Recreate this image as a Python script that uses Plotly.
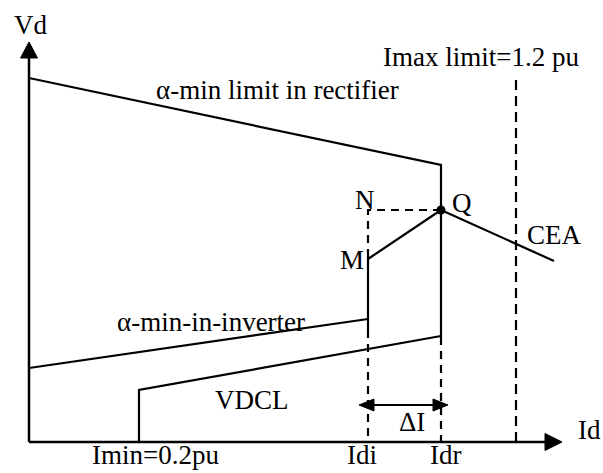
import plotly.graph_objects as go

# HVDC converter static characteristics (schematic units: Id to the right, Vd upward)
rect_alpha_x = [0, 412, 412]          # alpha-min limit in rectifier, then CC of rectifier at Idr
rect_alpha_y = [364, 277, 105]
cea_x = [412, 525]                     # constant extinction angle branch
cea_y = [232, 181]
mq_x = [339, 412]                      # M -> Q segment
mq_y = [183, 232]
idi_solid_x = [339, 339]               # current-control line of inverter at Idi
idi_solid_y = [190, 112]
inv_alpha_x = [0, 339]                 # alpha-min in inverter
inv_alpha_y = [74, 123]
vdcl_x = [0, 110, 110, 412]            # VDCL with Imin
vdcl_y = [0, 0, 52, 106]

dash_n_x = [412, 339, 339]             # N corner (dashed)
dash_n_y = [232, 232, 190]
dash_idi_x = [339, 339]
dash_idi_y = [112, 0]
dash_idr_x = [412, 412]
dash_idr_y = [105, 0]
imax_x = [487, 487]
imax_y = [362, 0]

q_point = (412, 232)
axis_x_end = 516
axis_y_end = 384
delta_i_y = 37
delta_i_span = (330, 419)

# (text, x, y, vertical anchor)
labels = [
    ("Vd", 1, 417, "middle"),
    ("α-min limit in rectifier", 248, 352, "middle"),
    ("Imax limit=1.2 pu", 452, 385, "middle"),
    ("N", 336, 242, "middle"),
    ("Q", 433, 239, "middle"),
    ("M", 323, 182, "middle"),
    ("CEA", 525, 207, "middle"),
    ("α-min-in-inverter", 182, 120, "middle"),
    ("VDCL", 223, 42, "middle"),
    ("Imin=0.2pu", 126, -30, "bottom"),
    ("Idi", 333, -30, "bottom"),
    ("Idr", 416, -30, "bottom"),
    ("ΔI", 383, 20, "middle"),
    ("Id", 560, 12, "middle"),
]

BLACK = "#000000"
LW = 2.2

fig = go.Figure()


def line(xs, ys, dash="solid", width=LW):
    fig.add_trace(go.Scatter(x=xs, y=ys, mode="lines",
                             line=dict(color=BLACK, width=width, dash=dash),
                             hoverinfo="skip", showlegend=False))


def triangle(tip, direction, length, half):
    tx, ty = tip
    dx, dy = direction
    bx, by = tx - dx * length, ty - dy * length
    px, py = -dy * half, dx * half
    fig.add_trace(go.Scatter(x=[tx, bx + px, bx - px, tx], y=[ty, by + py, by - py, ty],
                             mode="lines", fill="toself", fillcolor=BLACK,
                             line=dict(color=BLACK, width=1),
                             hoverinfo="skip", showlegend=False))


# axes with arrowheads
line([0, 0], [0, axis_y_end], width=2.5)
line([0, axis_x_end], [0, 0], width=2.5)
triangle((0, axis_y_end + 16), (0, 1), 16, 8.5)
triangle((axis_x_end + 17, 0), (1, 0), 17, 8.5)

# characteristic curves
line(rect_alpha_x, rect_alpha_y)
line(cea_x, cea_y)
line(mq_x, mq_y)
line(idi_solid_x, idi_solid_y)
line(inv_alpha_x, inv_alpha_y)
line(vdcl_x, vdcl_y)

# dashed construction lines
dash = "8px,6px"
line(dash_n_x, dash_n_y, dash=dash)
line(dash_idi_x, dash_idi_y, dash=dash)
line(dash_idr_x, dash_idr_y, dash=dash)
line(imax_x, imax_y, dash="10px,6px")

# current margin arrow
x0, x1 = delta_i_span
line([x0 + 10, x1 - 10], [delta_i_y, delta_i_y])
triangle((x0, delta_i_y), (-1, 0), 15, 6)
triangle((x1, delta_i_y), (1, 0), 15, 6)

# operating point Q
fig.add_trace(go.Scatter(x=[q_point[0]], y=[q_point[1]], mode="markers",
                         marker=dict(color=BLACK, size=9),
                         hoverinfo="skip", showlegend=False))

for text, x, y, anchor in labels:
    fig.add_annotation(x=x, y=y, text=text, showarrow=False,
                       xanchor="center", yanchor=anchor,
                       font=dict(family="Liberation Serif", size=27, color=BLACK))

fig.update_layout(
    width=603, height=473,
    margin=dict(l=0, r=0, t=0, b=0),
    paper_bgcolor="white", plot_bgcolor="white",
    xaxis=dict(range=[-29, 574], visible=False, fixedrange=True),
    yaxis=dict(range=[-31, 442], visible=False, fixedrange=True),
)

fig.write_html("out.html")
